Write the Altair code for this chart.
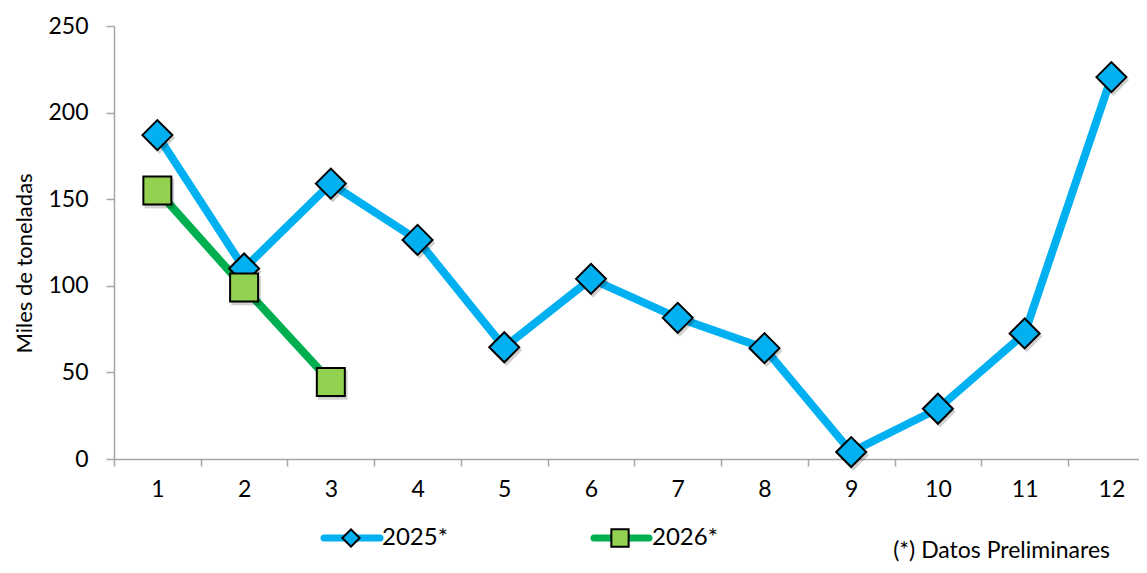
import altair as alt
import pandas as pd

# ---- data ----
months = [1, 2, 3, 4, 5, 6, 7, 8, 9, 10, 11, 12]
vals_2025 = [187, 110, 159, 126.5, 64.5, 104, 81.5, 64, 4, 29, 72.5, 220.5]
months_2026 = [1, 2, 3]
vals_2026 = [155, 99, 44.5]
series = ["2025*", "2026*"]
y_ticks = [0, 50, 100, 150, 200, 250]
y_title = "Miles de toneladas"
note = "(*) Datos Preliminares"

BLUE = "#00B0F0"
GREEN_LINE = "#00B050"
GREEN_FILL = "#92D050"
AXIS_GRAY = "#a6a6a6"
FONT = "Lato"

df25 = pd.DataFrame({"mes": months, "valor": vals_2025, "serie": series[0]})
df26 = pd.DataFrame({"mes": months_2026, "valor": vals_2026, "serie": series[1]})
leg25 = pd.DataFrame({"serie": [series[0]]})
leg26 = pd.DataFrame({"serie": [series[1]]})
note_df = pd.DataFrame({"t": [note]})

W, H = 1025, 433
step = 86.73

x_enc = alt.X(
    "mes:Q",
    scale=alt.Scale(domain=[0.5, 0.5 + W / step], nice=False, zero=False),
    axis=alt.Axis(
        values=months, title=None, grid=False,
        tickOffset=-step / 2, labelOffset=step / 2,
        labelFlush=False, labelOverlap=False,
        tickSize=7, labelPadding=12,
    ),
)
y_enc = alt.Y(
    "valor:Q",
    scale=alt.Scale(domain=[0, 250], nice=False),
    axis=alt.Axis(
        values=y_ticks, title=y_title, grid=False,
        tickSize=8, labelPadding=18, titlePadding=11, titleY=237,
    ),
)

line25 = alt.Chart(df25).mark_line(color=BLUE, strokeWidth=8).encode(x=x_enc, y=y_enc)
line26 = alt.Chart(df26).mark_line(color=GREEN_LINE, strokeWidth=8).encode(x=x_enc, y=y_enc)

shadow25 = alt.Chart(df25).mark_point(
    shape="diamond", filled=True, fill="#000000", opacity=0.18, size=1000,
    strokeWidth=0, xOffset=2, yOffset=3,
).encode(x=x_enc, y=y_enc)
shadow26 = alt.Chart(df26).mark_point(
    shape="square", filled=True, fill="#000000", opacity=0.18, size=880,
    strokeWidth=0, xOffset=2, yOffset=3,
).encode(x=x_enc, y=y_enc)

pts25 = alt.Chart(df25).mark_point(
    shape="diamond", filled=True, fill=BLUE, stroke="black", strokeWidth=2,
    size=900, opacity=1,
).encode(x=x_enc, y=y_enc)
pts26 = alt.Chart(df26).mark_point(
    shape="square", filled=True, fill=GREEN_FILL, stroke="black", strokeWidth=2,
    size=784, opacity=1,
).encode(x=x_enc, y=y_enc)

# ---- legend (manual, below the plot) ----
LY = H + 79


def legend_entry(df, color, fill, shape, x0, x1, xm, xt, size):
    rule = alt.Chart(df).mark_rule(color=color, strokeWidth=7, strokeCap="round").encode(
        x=alt.value(x0), x2=alt.value(x1), y=alt.value(LY)
    )
    sym = alt.Chart(df).mark_point(
        shape=shape, filled=True, fill=fill, stroke="black", strokeWidth=2,
        size=size, opacity=1,
    ).encode(x=alt.value(xm), y=alt.value(LY))
    txt = alt.Chart(df).mark_text(
        align="left", baseline="middle", font=FONT, fontSize=24, color="black"
    ).encode(x=alt.value(xt), y=alt.value(LY), text="serie:N")
    return rule + sym + txt


leg_a = legend_entry(leg25, BLUE, BLUE, "diamond", 210, 266, 237, 268, 300)
leg_b = legend_entry(leg26, GREEN_LINE, GREEN_FILL, "square", 480, 535, 506, 538, 300)

note_txt = alt.Chart(note_df).mark_text(
    align="right", baseline="alphabetic", font=FONT, fontSize=23, color="black"
).encode(x=alt.value(996), y=alt.value(H + 99), text="t:N")

chart = (
    alt.layer(line25, line26, shadow25, shadow26, pts25, pts26, leg_a, leg_b, note_txt)
    .properties(
        width=W, height=H,
        padding={"left": 106, "top": 18, "right": 0, "bottom": 106},
        autosize=alt.AutoSizeParams(type="none"),
    )
    .configure_view(stroke=None)
    .configure_axis(
        domainColor=AXIS_GRAY, tickColor=AXIS_GRAY, domainWidth=1.5, tickWidth=1.5,
        labelFont=FONT, labelFontSize=23, labelColor="black",
        titleFont=FONT, titleFontSize=22, titleFontWeight="normal", titleColor="black",
    )
)

chart.save("out.html", embed_options={"renderer": "svg", "actions": False})
